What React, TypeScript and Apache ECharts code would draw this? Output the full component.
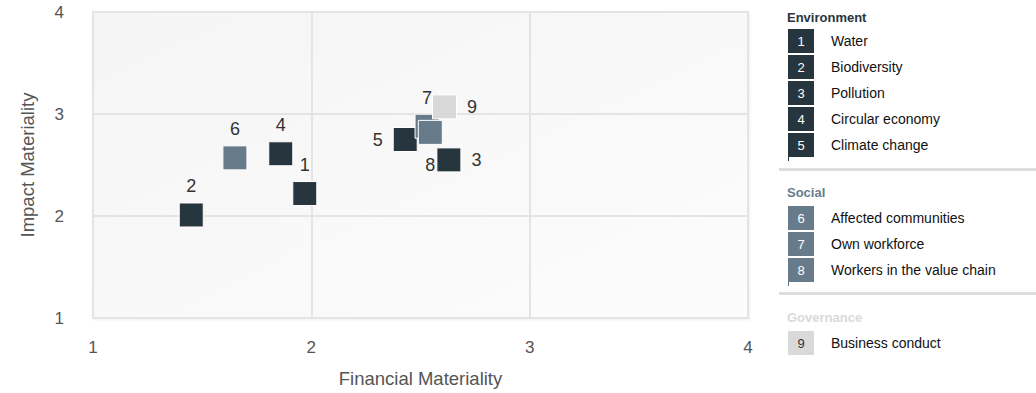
import React, { useEffect, useRef } from "react";
import * as echarts from "echarts";

const ids = [1, 2, 3, 4, 5, 6, 7, 8, 9];
const topics = [
  "Water",
  "Biodiversity",
  "Pollution",
  "Circular economy",
  "Climate change",
  "Affected communities",
  "Own workforce",
  "Workers in the value chain",
  "Business conduct",
];
const groupOf = [0, 0, 0, 0, 0, 1, 1, 1, 2];
const groups = ["Environment", "Social", "Governance"];
const groupColors = ["#27353e", "#687b8b", "#d9d9d9"];
const financial = [1.97, 1.45, 2.63, 1.86, 2.43, 1.65, 2.53, 2.545, 2.61];
const impact = [2.22, 2.01, 2.55, 2.61, 2.75, 2.57, 2.88, 2.82, 3.07];
const labelPos = ["top", "top", "right", "top", "left", "top", "top", "bottom", "right"];
const axisMin = 1;
const axisMax = 4;

const FONT = "'Liberation Sans', Arial, Helvetica, sans-serif";

function buildLegend() {
  const els: any[] = [];
  const x0 = 788;
  const titleY = [17, 192, 317];
  const firstRowY = [29, 206, 331];
  const sepY = [168, 292];
  groups.forEach((g, gi) => {
    els.push({
      type: "text",
      x: x0 - 1,
      y: titleY[gi],
      style: {
        text: g,
        fill: groupColors[gi],
        font: `bold 13px ${FONT}`,
        verticalAlign: "middle",
      },
    });
    const members = ids.map((_, i) => i).filter((i) => groupOf[i] === gi);
    members.forEach((i, k) => {
      const y = firstRowY[gi] + k * 26;
      els.push({
        type: "rect",
        shape: { x: x0, y, width: 26, height: 24 },
        style: { fill: groupColors[gi] },
      });
      els.push({
        type: "text",
        x: x0 + 13,
        y: y + 12,
        style: {
          text: String(ids[i]),
          fill: gi === 2 ? "#333" : "#fff",
          font: `13px ${FONT}`,
          align: "center",
          verticalAlign: "middle",
        },
      });
      els.push({
        type: "text",
        x: 831,
        y: y + 12,
        style: {
          text: topics[i],
          fill: "#111",
          font: `14px ${FONT}`,
          verticalAlign: "middle",
        },
      });
    });
    if (gi < 2) {
      const lastY = firstRowY[gi] + (members.length - 1) * 26 + 24;
      els.push({
        type: "rect",
        shape: { x: x0, y: lastY, width: 1, height: 4 },
        style: { fill: groupColors[gi] },
      });
    }
  });
  sepY.forEach((y) => {
    els.push({
      type: "rect",
      shape: { x: 779, y, width: 260, height: 3 },
      style: { fill: "#dedede" },
    });
  });
  return els;
}

export default function App() {
  const ref = useRef<HTMLDivElement>(null);
  useEffect(() => {
    document.body.style.margin = "0";
    document.body.style.overflow = "hidden";
    if (!ref.current) return;
    const chart = echarts.init(ref.current, null, { renderer: "svg" });
    const series = groups.map((g, gi) => ({
      type: "scatter",
      name: g,
      symbol: "rect",
      symbolSize: 24,
      z: 2 + gi,
      itemStyle: { color: groupColors[gi], borderColor: "#fff", borderWidth: 1, opacity: 1 },
      label: {
        show: true,
        color: "#333",
        fontSize: 18,
        fontFamily: FONT,
        formatter: (p: any) => String(p.data.id),
      },
      data: ids
        .map((id, i) => ({ id, i }))
        .filter((d) => groupOf[d.i] === gi)
        .map((d) => ({
          id: d.id,
          value: [financial[d.i], impact[d.i]],
          label: {
            position: labelPos[d.i],
            distance: labelPos[d.i] === "bottom" ? 11 : labelPos[d.i] === "top" ? 7 : 10,
          },
        })),
    }));
    chart.setOption({
      animation: false,
      textStyle: { fontFamily: FONT },
      grid: {
        left: 93,
        right: 288,
        top: 12,
        bottom: 70,
        show: true,
        borderColor: "#e4e4e4",
        borderWidth: 2,
        shadowColor: "rgba(0,0,0,0.06)",
        shadowBlur: 2,
        shadowOffsetX: 1,
        shadowOffsetY: 1,
        backgroundColor: new echarts.graphic.LinearGradient(0, 0, 1, 1, [
          { offset: 0, color: "#f5f5f5" },
          { offset: 1, color: "#fcfcfc" },
        ]),
      },
      xAxis: {
        type: "value",
        min: axisMin,
        max: axisMax,
        interval: 1,
        name: "Financial Materiality",
        nameLocation: "middle",
        nameGap: 51,
        nameTextStyle: { fontSize: 18.5, color: "#555", fontFamily: FONT },
        axisLine: { show: false },
        axisTick: { show: false },
        axisLabel: { fontSize: 17, color: "#555", margin: 21, fontFamily: FONT },
        splitLine: { show: true, lineStyle: { color: "#e4e4e4", width: 2 } },
      },
      yAxis: {
        type: "value",
        min: axisMin,
        max: axisMax,
        interval: 1,
        name: "Impact Materiality",
        nameLocation: "middle",
        nameGap: 56,
        nameTextStyle: { fontSize: 18.5, color: "#555", fontFamily: FONT },
        axisLine: { show: false },
        axisTick: { show: false },
        axisLabel: { fontSize: 17, color: "#555", margin: 29, fontFamily: FONT },
        splitLine: { show: true, lineStyle: { color: "#e4e4e4", width: 2 } },
      },
      graphic: buildLegend(),
      series,
    });
    return () => chart.dispose();
  }, []);
  return <div ref={ref} style={{ width: 1036, height: 393 }} />;
}
